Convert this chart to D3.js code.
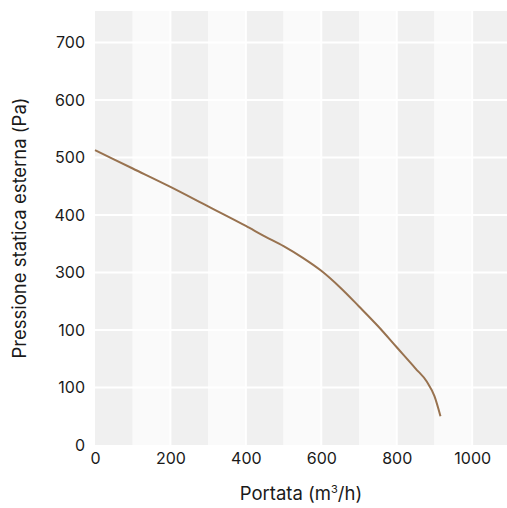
<!DOCTYPE html>
<html><head><meta charset="utf-8">
<script src="https://cdn.jsdelivr.net/npm/d3@7"></script>
<style>body{margin:0;background:#fff}svg{display:block}text{font-family:Inter,"Liberation Sans",Arial,sans-serif;fill:#1a1a1a}</style>
</head><body><svg id="c" width="507" height="508"></svg>
<script>
const flow = [0,100,200,300,400,450,500,550,600,650,700,750,800,850,880,900,916];
const pressure = [513,481,449,415,381,363,346,326,303,274,241,207,170,133,110,85,50];
const xTicks = [0,200,400,600,800,1000];
const xTickLabels = ["0","200","400","600","800","1000"];
const yTicks = [0,100,200,300,400,500,600,700];
const yTickLabels = ["0","100","100","300","400","500","600","700"];
const bands = [0,100,200,300,400,500,600,700,800,900,1000];

const svg = d3.select("#c");
const x = d3.scaleLinear().domain([0,1095]).range([95,508]);
const y = d3.scaleLinear().domain([0,755]).range([445,11]);
const g = svg.append("g");
g.selectAll("rect.b").data(bands).join("rect")
  .attr("x", d=>x(d)).attr("width", d=>Math.min(x(d+100),508)-x(d))
  .attr("y", y(755)).attr("height", y(0)-y(755))
  .attr("fill", (d,i)=> i%2===0 ? "#f0f0f0" : "#fafafa");
g.selectAll("line.v").data(xTicks.filter(d=>d>0)).join("line")
  .attr("x1", d=>x(d)).attr("x2", d=>x(d)).attr("y1", y(755)).attr("y2", y(0))
  .attr("stroke","#fff").attr("stroke-width",2);
g.selectAll("line.h").data(yTicks.filter(d=>d>0)).join("line")
  .attr("x1", x(0)).attr("x2", 508).attr("y1", d=>y(d)).attr("y2", d=>y(d))
  .attr("stroke","#fff").attr("stroke-width",2);

const line = d3.line().x((d,i)=>x(flow[i])).y(d=>y(d)).curve(d3.curveMonotoneX);
svg.append("path").attr("d", line(pressure)).attr("fill","none")
  .attr("stroke","#98724f").attr("stroke-width",2);

const xa = svg.append("g").attr("transform","translate(0,445)")
  .call(d3.axisBottom(x).tickValues(xTicks).tickFormat((d,i)=>xTickLabels[i]).tickSize(0).tickPadding(8));
xa.select(".domain").remove();
xa.selectAll("text").attr("font-size",16).style("fill","#1a1a1a").style("font-family","Inter");
const ya = svg.append("g").attr("transform","translate(95,0)")
  .call(d3.axisLeft(y).tickValues(yTicks).tickFormat((d,i)=>yTickLabels[i]).tickSize(0).tickPadding(10));
ya.select(".domain").remove();
ya.selectAll("text").attr("font-size",16).style("fill","#1a1a1a").style("font-family","Inter");

const xt = svg.append("text").attr("x",301).attr("y",500).attr("text-anchor","middle").attr("font-size",18.5);
xt.append("tspan").text("Portata (m");
xt.append("tspan").text("3").attr("font-size",11).attr("dy",-7);
xt.append("tspan").text("/h)").attr("dy",7);
svg.append("text").attr("transform","translate(26,228) rotate(-90)").attr("text-anchor","middle")
  .attr("font-size",18.5).text("Pressione statica esterna (Pa)");
</script></body></html>
